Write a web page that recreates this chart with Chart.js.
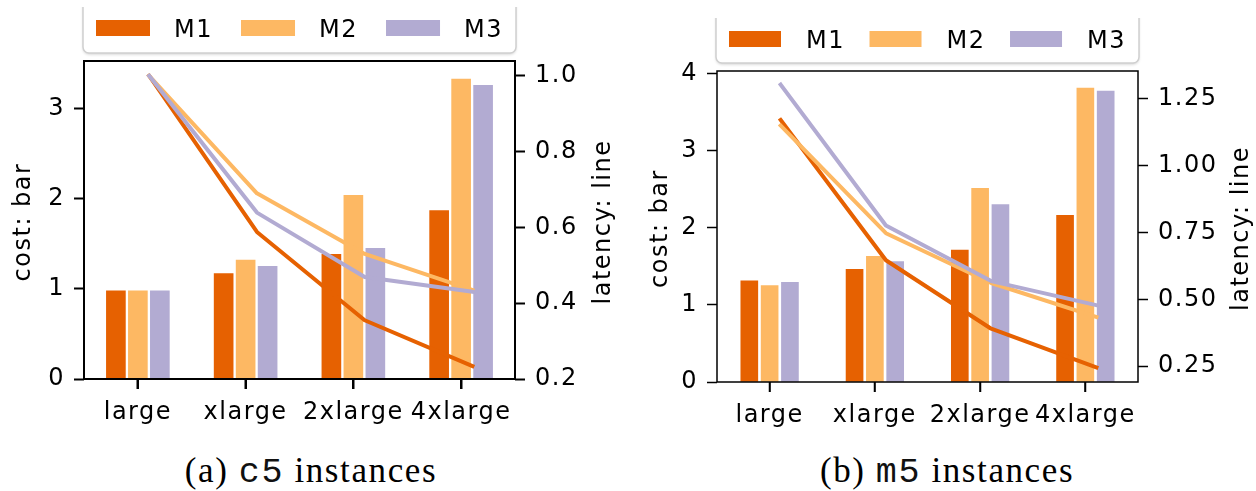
<!DOCTYPE html>
<html lang="en">
<head>
<meta charset="UTF-8">
<title>c5 / m5 instances: cost and latency</title>
<script src="https://cdn.jsdelivr.net/npm/chart.js@4.4.1/dist/chart.umd.min.js"></script>
<style>
  body { margin: 0; background: #fff; }
  #page { position: relative; width: 1256px; height: 491px; overflow: hidden; }
  canvas { position: absolute; }
  #chartA { left: 0; top: 7px; }
  #chartB { left: 628px; top: 18px; }
  .caption { position: absolute; top: 453px; width: 400px; text-align: center; font-family: "Liberation Serif", serif;
             font-size: 35px; line-height: 1; letter-spacing: 1.6px; color: #000; white-space: nowrap; }
  .caption .tt { font-family: "Liberation Mono", monospace; font-weight: normal; color: #111; }
</style>
</head>
<body>
<div id="page">
  <canvas id="chartA" width="628" height="440"></canvas>
  <canvas id="chartB" width="628" height="430"></canvas>
  <div class="caption" style="left:111px">(a) <span class="tt">c5</span> instances</div>
  <div class="caption" style="left:747px">(b) <span class="tt">m5</span> instances</div>
</div>
<script>
const categories = ['large', 'xlarge', '2xlarge', '4xlarge'];
const methods = ['M1', 'M2', 'M3'];
const colors = ['#e66101', '#fdb863', '#b2abd2'];

// (a) c5: cost (bars, left axis) and latency (lines, right axis)
const c5CostM1 = [0.98, 1.17, 1.385, 1.87];
const c5CostM2 = [0.98, 1.32, 2.04, 3.33];
const c5CostM3 = [0.98, 1.25, 1.45, 3.26];
const c5LatM1 = [1.0, 0.588, 0.355, 0.234];
const c5LatM2 = [1.0, 0.69, 0.53, 0.435];
const c5LatM3 = [1.0, 0.639, 0.469, 0.43];
const c5CostTicks = [0, 1, 2, 3];
const c5LatTicks = [0.2, 0.4, 0.6, 0.8, 1.0];

// (b) m5
const m5CostM1 = [1.31, 1.46, 1.71, 2.16];
const m5CostM2 = [1.25, 1.63, 2.51, 3.81];
const m5CostM3 = [1.29, 1.56, 2.30, 3.77];
const m5LatM1 = [1.17, 0.646, 0.39, 0.245];
const m5LatM2 = [1.149, 0.747, 0.561, 0.434];
const m5LatM3 = [1.302, 0.776, 0.568, 0.478];
const m5CostTicks = [0, 1, 2, 3, 4];
const m5LatTicks = [0.25, 0.5, 0.75, 1.0, 1.25];

const FONT_SIZE = 24;
const SPACING = '1.5px';
Chart.defaults.font.family = '"DejaVu Sans", sans-serif';
Chart.defaults.font.size = FONT_SIZE;
Chart.defaults.color = '#000';

const lineShift = 0.105; // lines sit half a bar right of the tick, as in the original plot

// frame, x tick marks, axis titles and boxed legend
const figurePlugin = {
  id: 'figure',
  beforeLayout(chart) { chart.ctx.letterSpacing = SPACING; },
  beforeDraw(chart) { chart.ctx.letterSpacing = SPACING; },
  afterDraw(chart, args, opts) {
    const { ctx, chartArea: a } = chart;
    ctx.save();
    ctx.letterSpacing = SPACING;
    ctx.strokeStyle = '#000';
    ctx.lineWidth = opts.frameWidth;
    ctx.strokeRect(a.left, a.top, a.right - a.left, a.bottom - a.top);

    const xs = chart.scales.x;
    ctx.beginPath();
    xs.ticks.forEach((t, i) => {
      const px = Math.round(xs.getPixelForTick(i));
      ctx.moveTo(px, a.bottom);
      ctx.lineTo(px, a.bottom + 10);
    });
    ctx.stroke();

    // axis titles, both read bottom to top
    ctx.font = FONT_SIZE + 'px "DejaVu Sans"';
    ctx.fillStyle = '#000';
    ctx.textAlign = 'center';
    ctx.textBaseline = 'alphabetic';
    const midY = (a.top + a.bottom) / 2;
    const titles = [
      [a.left - opts.leftTitle, chart.options.scales.y.title.text],
      [a.right + opts.rightTitle, chart.options.scales.y2.title.text]
    ];
    titles.forEach(([x, t]) => {
      ctx.save();
      ctx.translate(x, midY + 2);
      ctx.rotate(-Math.PI / 2);
      ctx.fillText(t, 0, 0);
      ctx.restore();
    });

    // legend
    const L = opts.legend;
    const items = chart.data.datasets.filter(d => d.type !== 'line');
    const bl = a.left - 1, br = a.right + 1, bb = a.top - 8, bt = -12, r = 6;
    ctx.save();
    ctx.beginPath();
    ctx.moveTo(bl + r, bt);
    ctx.lineTo(br - r, bt);
    ctx.arcTo(br, bt, br, bt + r, r);
    ctx.lineTo(br, bb - r);
    ctx.arcTo(br, bb, br - r, bb, r);
    ctx.lineTo(bl + r, bb);
    ctx.arcTo(bl, bb, bl, bb - r, r);
    ctx.lineTo(bl, bt + r);
    ctx.arcTo(bl, bt, bl + r, bt, r);
    ctx.closePath();
    ctx.shadowColor = 'rgba(0,0,0,0.18)';
    ctx.shadowBlur = 3;
    ctx.shadowOffsetY = 1.5;
    ctx.fillStyle = '#fff';
    ctx.fill();
    ctx.shadowColor = 'transparent';
    ctx.strokeStyle = '#cfcfcf';
    ctx.lineWidth = 1.5;
    ctx.stroke();
    ctx.restore();

    const widths = items.map(d => L.patchW + L.gap + ctx.measureText(d.label).width);
    const total = widths.reduce((s, w) => s + w, 0);
    const space = (br - bl - 2 * L.pad - total) / (items.length - 1);
    let x = bl + L.pad;
    ctx.textAlign = 'left';
    items.forEach((d, i) => {
      ctx.fillStyle = d.backgroundColor;
      ctx.fillRect(x, L.cy - L.patchH / 2, L.patchW, L.patchH);
      ctx.fillStyle = '#000';
      ctx.fillText(d.label, x + L.patchW + L.gap, L.cy + 8.7);
      x += widths[i] + space;
    });
    ctx.restore();
  }
};

function makePanel(id, cost, lat, costTicks, latTicks, p) {
  // bars placed side by side around each category, the way the plot was made (x + i*width)
  const bars = cost.map((vals, i) => ({
    label: methods[i],
    data: vals.map((v, k) => ({ x: k + (i - 1) * p.barStep, y: v })),
    backgroundColor: colors[i],
    xAxisID: 'xl',
    yAxisID: 'y',
    grouped: false,
    barThickness: p.barW,
    order: 5
  }));
  const lines = lat.map((vals, i) => ({
    type: 'line',
    label: methods[i],
    data: vals.map((v, k) => ({ x: k + lineShift, y: v })),
    borderColor: colors[i],
    backgroundColor: colors[i],
    borderWidth: 4,
    pointRadius: 0,
    borderCapStyle: 'square',
    borderJoinStyle: 'round',
    tension: 0,
    xAxisID: 'xl',
    yAxisID: 'y2',
    order: 2 - i
  }));
  const tickGrid = { drawOnChartArea: false, drawTicks: true, tickLength: 10, tickWidth: p.tickWidth, tickColor: '#000' };

  return new Chart(document.getElementById(id), {
    type: 'bar',
    data: { labels: categories, datasets: bars.concat(lines) },
    options: {
      responsive: false,
      animation: false,
      layout: { padding: { top: p.padTop, left: 0, right: 0, bottom: 0 } },
      plugins: {
        legend: { display: false },
        tooltip: { enabled: false },
        figure: { frameWidth: p.frameWidth, leftTitle: p.leftTitle, rightTitle: p.rightTitle, legend: p.legend }
      },
      scales: {
        x: {
          type: 'category',
          offset: true,
          grid: Object.assign({ offset: false }, tickGrid),
          border: { display: false },
          ticks: { autoSkip: false, maxRotation: 0, minRotation: 0, padding: p.xPad },
          afterFit: s => { s.height = p.xHeight; }
        },
        xl: { type: 'linear', axis: 'x', position: 'bottom', display: false, offset: false,
              grid: { offset: false }, min: -0.5, max: 3.5 },
        y: {
          position: 'left',
          min: 0,
          max: p.costMax,
          grid: tickGrid,
          border: { display: false },
          title: { display: false, text: 'cost: bar' },
          ticks: { autoSkip: false, padding: 9, callback: v => String(v) },
          afterBuildTicks: s => { s.ticks = costTicks.map(v => ({ value: v })); },
          afterFit: s => { s.width = p.leftW; }
        },
        y2: {
          position: 'right',
          min: p.latMin,
          max: p.latMax,
          grid: tickGrid,
          border: { display: false },
          title: { display: false, text: 'latency: line' },
          ticks: { autoSkip: false, padding: 10, callback: v => v.toFixed(p.latDigits) },
          afterBuildTicks: s => { s.ticks = latTicks.map(v => ({ value: v })); },
          afterFit: s => { s.width = p.rightW; }
        }
      }
    },
    plugins: [figurePlugin]
  });
}

makePanel('chartA',
  [c5CostM1, c5CostM2, c5CostM3], [c5LatM1, c5LatM2, c5LatM3], c5CostTicks, c5LatTicks,
  { barStep: 0.204, barW: 19, costMax: 3.53, latMin: 0.2, latMax: 1.039, latDigits: 1,
    frameWidth: 2, tickWidth: 2, leftTitle: 54, rightTitle: 94.5, leftW: 84, rightW: 113,
    xHeight: 68, padTop: 54, xPad: 9,
    legend: { pad: 13, patchW: 54, patchH: 16, gap: 24, cy: 21 } });

makePanel('chartB',
  [m5CostM1, m5CostM2, m5CostM3], [m5LatM1, m5LatM2, m5LatM3], m5CostTicks, m5LatTicks,
  { barStep: 0.193, barW: 17, costMax: 4.03, latMin: 0.191, latMax: 1.353, latDigits: 2,
    frameWidth: 1.5, tickWidth: 1.5, leftTitle: 50, rightTitle: 109.5, leftW: 89, rightW: 118,
    xHeight: 66, padTop: 53, xPad: 9,
    legend: { pad: 13, patchW: 52, patchH: 16, gap: 25, cy: 21 } });
</script>
</body>
</html>
